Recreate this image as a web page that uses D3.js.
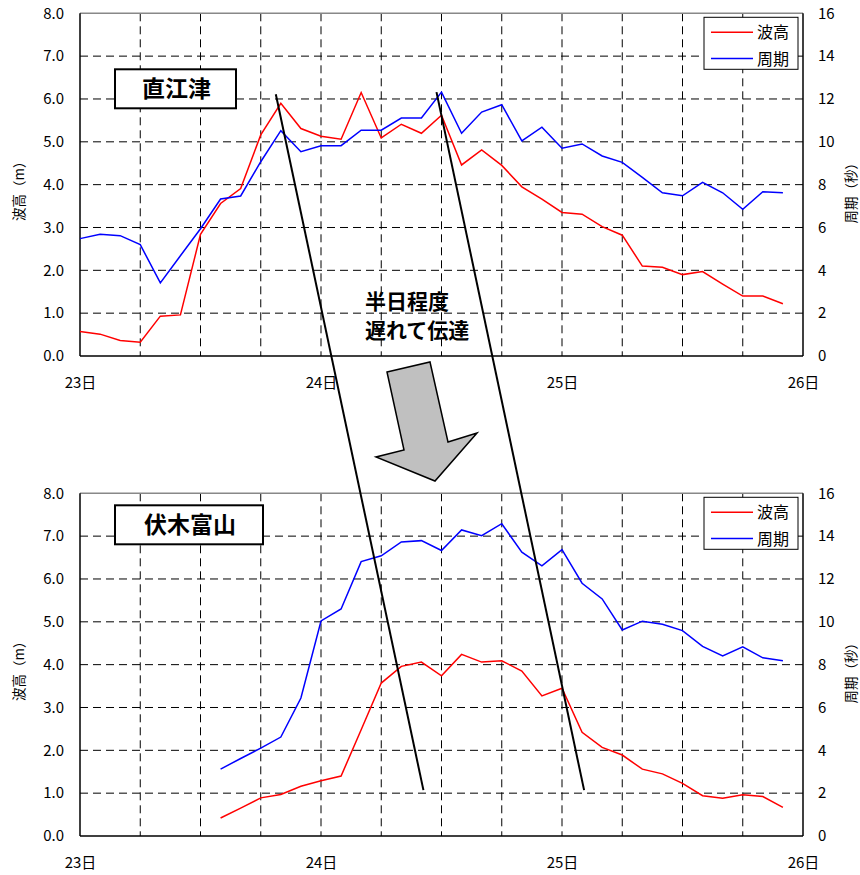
<!DOCTYPE html>
<html>
<head>
<meta charset="utf-8">
<script src="https://cdn.jsdelivr.net/npm/d3@7"></script>
<style>
  html, body { margin: 0; padding: 0; background: #fff; }
  svg { display: block; }
  text { font-family: "Noto Sans CJK JP", "Noto Sans", sans-serif; }
</style>
</head>
<body>
<script>
// Hours since 23日 00:00, sampled every 2 hours
const naoetsuHours = d3.range(0, 72, 2);
const fushikiHours = d3.range(14, 72, 2);

// 直江津: significant wave height (m) and period (s)
const naoetsuHeight = [0.57, 0.51, 0.36, 0.32, 0.93, 0.96, 2.84, 3.56, 3.91, 5.16, 5.90, 5.31,
  5.13, 5.06, 6.15, 5.09, 5.41, 5.20, 5.62, 4.46, 4.81, 4.45, 3.95, 3.66,
  3.35, 3.31, 3.02, 2.82, 2.10, 2.07, 1.90, 1.97, 1.68, 1.40, 1.40, 1.22];
const naoetsuPeriod = [5.48, 5.68, 5.62, 5.20, 3.41, 4.68, 5.94, 7.33, 7.47, 9.07, 10.52, 9.54,
  9.82, 9.82, 10.54, 10.54, 11.11, 11.11, 12.32, 10.40, 11.39, 11.73, 10.04, 10.68,
  9.70, 9.90, 9.34, 9.04, 8.34, 7.62, 7.48, 8.11, 7.62, 6.85, 7.67, 7.62];

// 伏木富山: significant wave height (m) and period (s)
const fushikiHeight = [0.42, 0.65, 0.89, 0.97, 1.16, 1.29, 1.40, 2.48, 3.57, 3.96, 4.06, 3.74,
  4.24, 4.06, 4.09, 3.85, 3.27, 3.45, 2.42, 2.07, 1.89, 1.56, 1.45, 1.23,
  0.94, 0.88, 0.96, 0.92, 0.67];
const fushikiPeriod = [3.12, 3.62, 4.10, 4.62, 6.44, 10.04, 10.60, 12.81, 13.08, 13.73, 13.79, 13.33,
  14.29, 14.02, 14.58, 13.25, 12.61, 13.37, 11.80, 11.07, 9.62, 10.03, 9.89, 9.59,
  8.85, 8.41, 8.83, 8.32, 8.18];

const dayLabels = ["23日", "24日", "25日", "26日"];
const heightTicks = [0, 1, 2, 3, 4, 5, 6, 7, 8];
const periodTicks = [0, 2, 4, 6, 8, 10, 12, 14, 16];
const seriesNames = ["波高", "周期"];
const seriesColors = ["#ff0000", "#0000ff"];

// Lag lines drawn from the 直江津 peaks to the 伏木富山 peaks (hour, wave height)
const lagLines = [
  { from: { h: 19.5, v: 6.11 }, to: { h: 34.2, v: 1.07 } },
  { from: { h: 35.5, v: 6.16 }, to: { h: 50.2, v: 1.07 } }
];

const W = 860, H = 875;
const svg = d3.select("body").append("svg").attr("width", W).attr("height", H);

const x = d3.scaleLinear().domain([0, 72]).range([80, 803]);
const tickFont = 15;

function panel(top, hours, height, period) {
  const bottom = top + 342.7;
  const yL = d3.scaleLinear().domain([0, 8]).range([bottom, top]);
  const yR = d3.scaleLinear().domain([0, 16]).range([bottom, top]);
  const g = svg.append("g");

  // dashed grid: every 1 m and every 6 hours
  g.append("g").selectAll("line").data(heightTicks.slice(1, -1)).join("line")
    .attr("x1", x(0)).attr("x2", x(72))
    .attr("y1", d => yL(d)).attr("y2", d => yL(d))
    .attr("stroke", "#000").attr("stroke-width", 1).attr("stroke-dasharray", "8,5");
  g.append("g").selectAll("line").data(d3.range(6, 72, 6)).join("line")
    .attr("x1", d => x(d)).attr("x2", d => x(d))
    .attr("y1", top).attr("y2", bottom)
    .attr("stroke", "#000").attr("stroke-width", 1).attr("stroke-dasharray", "8,5");

  // frame
  g.append("line").attr("x1", x(0)).attr("x2", x(72)).attr("y1", top).attr("y2", top)
    .attr("stroke", "#888").attr("stroke-width", 1.5);
  g.append("line").attr("x1", x(0)).attr("x2", x(72)).attr("y1", bottom).attr("y2", bottom)
    .attr("stroke", "#000").attr("stroke-width", 1.5);
  g.append("line").attr("x1", x(0)).attr("x2", x(0)).attr("y1", top).attr("y2", bottom)
    .attr("stroke", "#000").attr("stroke-width", 1.5);
  g.append("line").attr("x1", x(72)).attr("x2", x(72)).attr("y1", top).attr("y2", bottom)
    .attr("stroke", "#000").attr("stroke-width", 1.5);

  // tick labels
  const axL = d3.axisLeft(yL).tickValues(heightTicks).tickFormat(d3.format(".1f")).tickSize(0).tickPadding(16);
  const gl = g.append("g").attr("transform", `translate(${x(0)},0)`).call(axL);
  gl.select(".domain").remove();
  gl.selectAll("text").attr("font-size", tickFont).attr("fill", "#000")
    .style("font-family", "'Noto Sans CJK JP', sans-serif");

  const axR = d3.axisRight(yR).tickValues(periodTicks).tickSize(0).tickPadding(15);
  const gr = g.append("g").attr("transform", `translate(${x(72)},0)`).call(axR);
  gr.select(".domain").remove();
  gr.selectAll("text").attr("font-size", tickFont).attr("fill", "#000")
    .style("font-family", "'Noto Sans CJK JP', sans-serif");

  const axB = d3.axisBottom(x).tickValues([0, 24, 48, 72]).tickFormat((d, i) => dayLabels[i]).tickSize(0).tickPadding(21);
  const gb = g.append("g").attr("transform", `translate(0,${bottom})`).call(axB);
  gb.select(".domain").remove();
  gb.selectAll("text").attr("font-size", tickFont).attr("fill", "#000")
    .style("font-family", "'Noto Sans CJK JP', sans-serif");

  // axis titles
  const mid = (top + bottom) / 2;
  g.append("text").attr("transform", `translate(24,${mid + 3}) rotate(-90)`)
    .attr("text-anchor", "middle").attr("font-size", 13.5).text("波高（m）");
  g.append("text").attr("transform", `translate(856,${mid + 5}) rotate(-90)`)
    .attr("text-anchor", "middle").attr("font-size", 13.5).text("周期（秒）");

  // series
  const lineL = d3.line().x((d, i) => x(hours[i])).y(d => yL(d));
  const lineR = d3.line().x((d, i) => x(hours[i])).y(d => yR(d));
  g.append("path").datum(height).attr("d", lineL).attr("fill", "none")
    .attr("stroke", seriesColors[0]).attr("stroke-width", 1.5);
  g.append("path").datum(period).attr("d", lineR).attr("fill", "none")
    .attr("stroke", seriesColors[1]).attr("stroke-width", 1.5);

  // legend
  const lg = g.append("g").attr("transform", `translate(704,${top + 4})`);
  lg.append("rect").attr("width", 94).attr("height", 52).attr("fill", "#fff")
    .attr("stroke", "#000").attr("stroke-width", 1);
  seriesNames.forEach((n, i) => {
    const yy = 15 + i * 26.3;
    lg.append("line").attr("x1", 7).attr("x2", 49).attr("y1", yy).attr("y2", yy)
      .attr("stroke", seriesColors[i]).attr("stroke-width", 1.5);
    lg.append("text").attr("x", 53).attr("y", yy + 6).attr("font-size", 16).text(n);
  });

  return { yL, g };
}

const pTop = panel(13.3, naoetsuHours, naoetsuHeight, naoetsuPeriod);
const pBot = panel(493.3, fushikiHours, fushikiHeight, fushikiPeriod);

// station name boxes
function stationBox(x0, y0, w, h, label) {
  svg.append("rect").attr("x", x0).attr("y", y0).attr("width", w).attr("height", h)
    .attr("fill", "#fff").attr("stroke", "#000").attr("stroke-width", 2);
  svg.append("text").attr("x", x0 + w / 2 + 1).attr("y", y0 + h / 2 + 8)
    .attr("text-anchor", "middle").attr("font-size", 23).attr("font-weight", "bold").text(label);
}
stationBox(115, 69.3, 121, 39, "直江津");
stationBox(115, 505.3, 148, 39, "伏木富山");

// annotation text
svg.append("text").attr("x", 365).attr("y", 309).attr("font-size", 21).attr("font-weight", "bold").text("半日程度");
svg.append("text").attr("x", 365).attr("y", 338).attr("font-size", 21).attr("font-weight", "bold").text("遅れて伝達");

// downward arrow
const arrowPts = [[387, 372], [430, 362], [448, 442], [477, 433], [435, 481], [376, 457], [404, 450]];
svg.append("polygon").attr("points", arrowPts.map(p => p.join(",")).join(" "))
  .attr("fill", "#c0c0c0").attr("stroke", "#000").attr("stroke-width", 1.5);

// lag lines
lagLines.forEach(l => {
  svg.append("line")
    .attr("x1", x(l.from.h)).attr("y1", pTop.yL(l.from.v))
    .attr("x2", x(l.to.h)).attr("y2", pBot.yL(l.to.v))
    .attr("stroke", "#000").attr("stroke-width", 2);
});
</script>
</body>
</html>
